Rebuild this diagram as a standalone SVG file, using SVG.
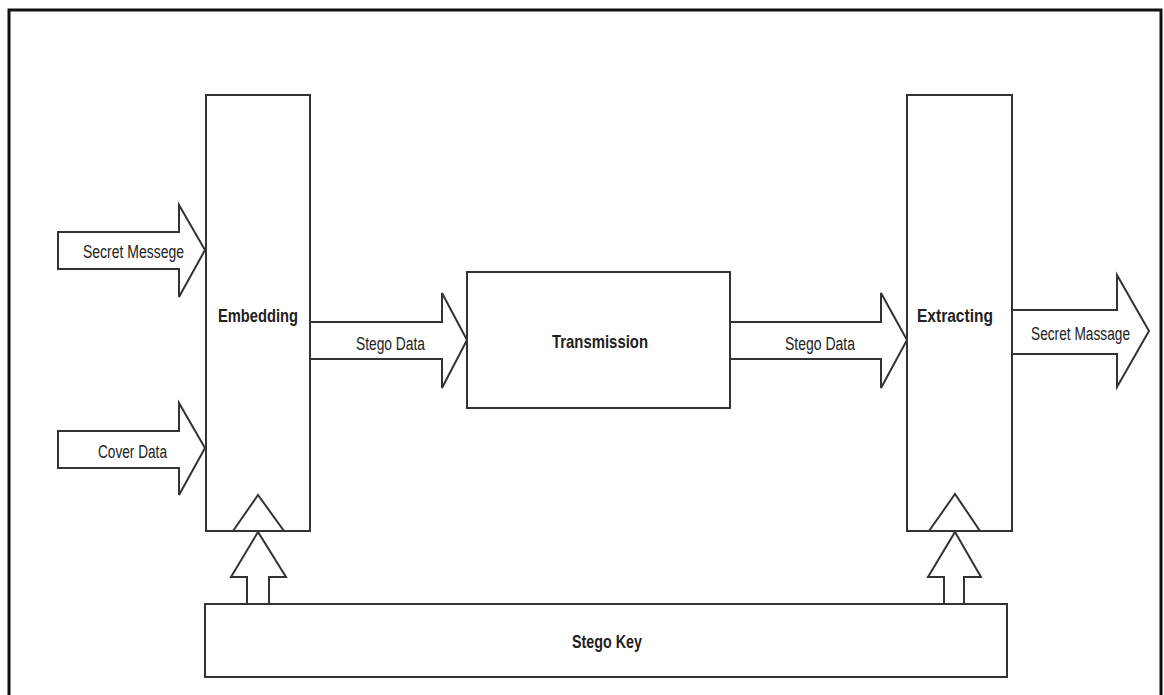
<svg xmlns="http://www.w3.org/2000/svg" width="1164" height="695" viewBox="0 0 1164 695">
  <style>
    .box { fill: #ffffff; stroke: #333333; stroke-width: 2; }
    .arrow { fill: #ffffff; stroke: #333333; stroke-width: 2; stroke-linejoin: miter; }
    .lbl { font-family: "Liberation Sans", Arial, sans-serif; font-size: 18px; fill: #222222; text-anchor: start; }
    .bold { font-weight: bold; font-size: 19px; }
  </style>
  <rect x="0" y="0" width="1164" height="695" fill="#ffffff"/>
  <!-- outer frame -->
  <rect x="9" y="10" width="1152" height="700" fill="none" stroke="#111111" stroke-width="3"/>

  <!-- connectors: block arrows -->
  <g id="connectors">
    <!-- Secret Messege into Embedding -->
    <polygon class="arrow" points="58,232 179,232 179,205 205,250 179,297 179,269 58,269"/>
    <!-- Cover Data into Embedding -->
    <polygon class="arrow" points="58,431 179,431 179,403 205,448 179,495 179,468 58,468"/>
    <!-- Stego Data: Embedding to Transmission -->
    <polygon class="arrow" points="310,322 442,322 442,293 467,340 442,388 442,359 310,359"/>
    <!-- Stego Data: Transmission to Extracting -->
    <polygon class="arrow" points="730,322 881,322 881,293 907,340 881,388 881,359 730,359"/>
    <!-- Secret Massage out of Extracting -->
    <polygon class="arrow" points="1012,310 1117,310 1117,275 1149,331 1117,387 1117,354 1012,354"/>
    <!-- Stego Key up to Embedding -->
    <polygon class="arrow" points="247,604 247,577 231,577 258,532 286,577 269,577 269,604"/>
    <!-- Stego Key up to Extracting -->
    <polygon class="arrow" points="944,604 944,577 928,577 955,532 981,577 964,577 964,604"/>
  </g>

  <g id="embedding">
    <rect class="box" x="206" y="95" width="104" height="436"/>
    <polygon class="arrow" points="233,531 258,495 284,531"/>
    <text class="lbl bold" x="218" y="322" textLength="80" lengthAdjust="spacingAndGlyphs">Embedding</text>
  </g>

  <g id="transmission">
    <rect class="box" x="467" y="272" width="263" height="136"/>
    <text class="lbl bold" x="552" y="348" textLength="96" lengthAdjust="spacingAndGlyphs">Transmission</text>
  </g>

  <g id="extracting">
    <rect class="box" x="907" y="95" width="105" height="436"/>
    <polygon class="arrow" points="929,531 955,494 980,531"/>
    <text class="lbl bold" x="917" y="322" textLength="76" lengthAdjust="spacingAndGlyphs">Extracting</text>
  </g>

  <g id="stego-key">
    <rect class="box" x="205" y="604" width="802" height="73"/>
    <text class="lbl bold" x="572" y="648" textLength="70" lengthAdjust="spacingAndGlyphs">Stego Key</text>
  </g>

  <g id="labels">
    <text class="lbl" x="83" y="258" textLength="101" lengthAdjust="spacingAndGlyphs">Secret Messege</text>
    <text class="lbl" x="98" y="458" textLength="69" lengthAdjust="spacingAndGlyphs">Cover Data</text>
    <text class="lbl" x="356" y="350" textLength="69" lengthAdjust="spacingAndGlyphs">Stego Data</text>
    <text class="lbl" x="785" y="350" textLength="70" lengthAdjust="spacingAndGlyphs">Stego Data</text>
    <text class="lbl" x="1031" y="340" textLength="99" lengthAdjust="spacingAndGlyphs">Secret Massage</text>
  </g>
</svg>
